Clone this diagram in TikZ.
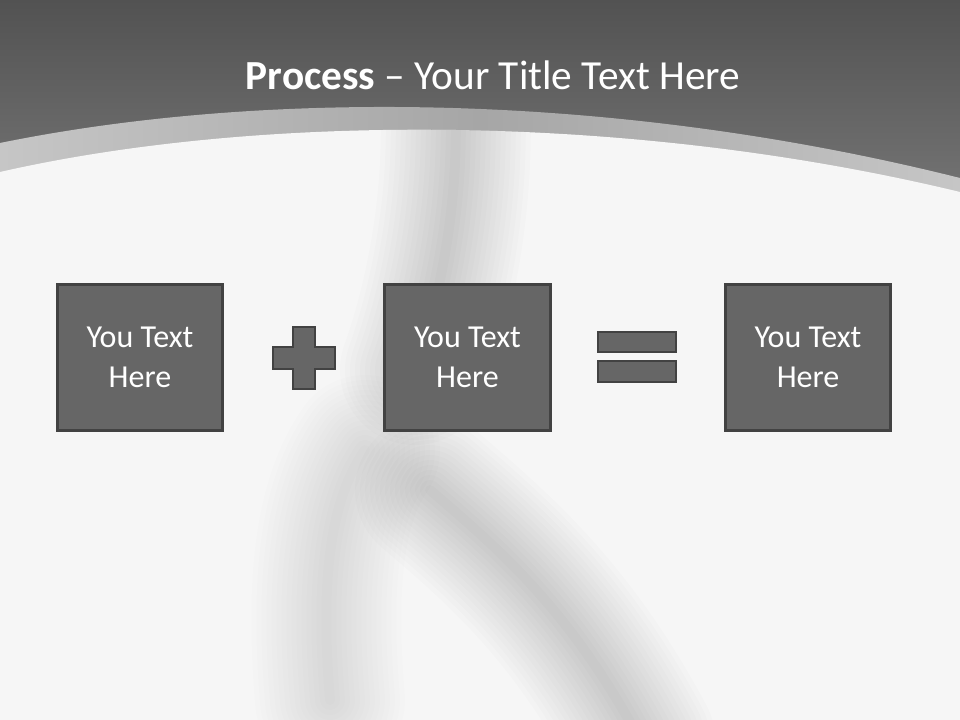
\documentclass[tikz,border=0pt]{standalone}
\usepackage{fontspec}
\setmainfont{Carlito}
\usetikzlibrary{positioning}
\definecolor{hdrtop}{RGB}{82,82,82}
\definecolor{hdrbot}{RGB}{116,116,116}
\definecolor{bandlight}{RGB}{198,198,198}
\definecolor{banddark}{RGB}{166,166,166}
\definecolor{paper}{RGB}{246,246,246}
\definecolor{boxfill}{RGB}{102,102,102}
\definecolor{boxline}{RGB}{66,66,66}
\newcommand{\haze}[2]{%
  \foreach \w in {150,140,...,10}{%
    \draw[black,opacity=#1,line width=\w*0.75pt,line cap=round] #2;%
  }%
}
\tikzset{
  textbox/.style={draw=boxline,line width=2.2pt,fill=boxfill,
    minimum width=124pt,minimum height=110pt,inner sep=0pt,
    text=white,align=center,font=\fontsize{24}{30}\selectfont},
  sign/.style={draw=boxline,line width=2.2pt,fill=boxfill}
}

\begin{document}
\begin{tikzpicture}[x=0.75pt,y=-0.75pt]
  \useasboundingbox (0,0) rectangle (960,720);
  % header
  \shade[top color=hdrtop,bottom color=hdrbot] (0,0) rectangle (960,200);
  \shade[left color=bandlight,right color=bandlight,middle color=banddark]
    (0,143) .. controls (250,92) and (600,88) .. (960,178)
    -- (960,720) -- (0,720) -- cycle;
  \fill[paper] (0,172) .. controls (250,115) and (620,110) .. (960,192)
    -- (960,720) -- (0,720) -- cycle;
  % soft shadow
  \begin{scope}
    \clip (0,172) .. controls (250,115) and (620,110) .. (960,192)
      -- (960,720) -- (0,720) -- cycle;
    \haze{0.010}{(455,100) .. controls (460,200) and (440,300) .. (415,370)}
    \haze{0.007}{(365,450) .. controls (330,500) and (320,580) .. (330,700)}
    \haze{0.010}{(430,490) .. controls (500,550) and (570,610) .. (640,740)}
  \end{scope}
  \node[font=\fontsize{31}{37}\selectfont,text=white] (title) at (493,75)
    {\textbf{Process} -- Your Title Text Here};
  % boxes
  \node[textbox] (left) at (140,357.5) {You Text\\Here};
  \node[textbox] (mid) at (467.5,357.5) {You Text\\Here};
  \node[textbox] (right) at (808,357.5) {You Text\\Here};
  % plus
  \draw[sign] (293,327) -- (315,327) -- (315,347) -- (335,347) -- (335,369)
    -- (315,369) -- (315,389) -- (293,389) -- (293,369) -- (273,369)
    -- (273,347) -- (293,347) -- cycle;
  % equals
  \draw[sign] (598,332) rectangle (676,352);
  \draw[sign] (598,361) rectangle (676,382);
\end{tikzpicture}
\end{document}
